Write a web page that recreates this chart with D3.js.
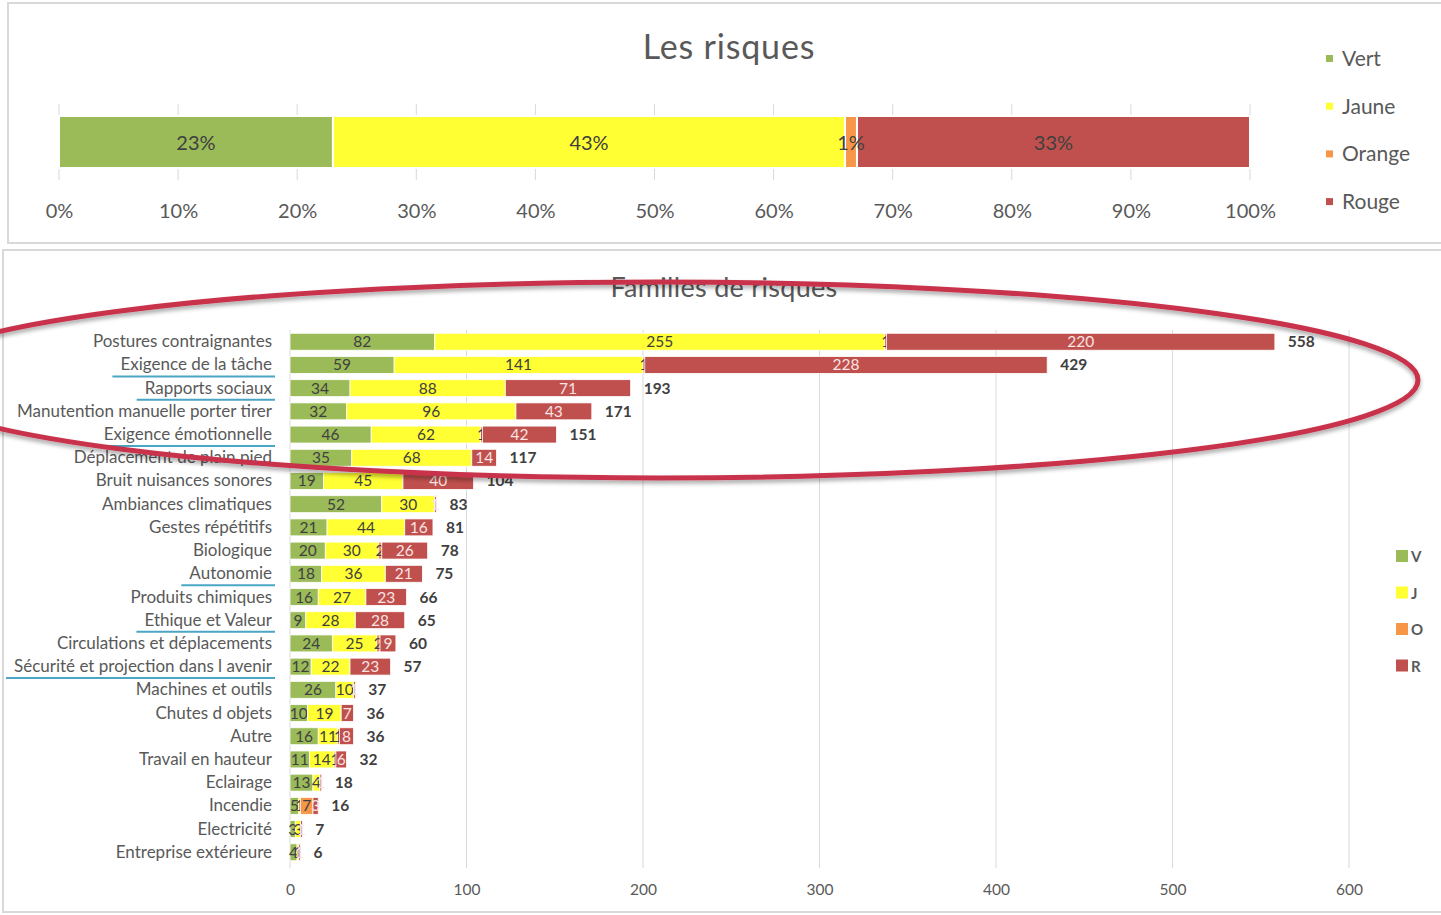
<!DOCTYPE html>
<html>
<head>
<meta charset="utf-8">
<script src="https://cdn.jsdelivr.net/npm/d3@7"></script>
<style>
  body { margin: 0; background: #fff; }
  svg { display: block; font-family: Lato, "Open Sans", sans-serif; }
</style>
</head>
<body>
<div id="chart"></div>
<script>
// Data - top chart (share of each level, %)
const levelNames = ['Vert', 'Jaune', 'Orange', 'Rouge']
const levelShort = ['V', 'J', 'O', 'R']
const levelColors = ['#9bbb59', '#ffff33', '#f79646', '#c0504d']
const topShares = [23, 43, 1, 33]
const topTicks = [0, 10, 20, 30, 40, 50, 60, 70, 80, 90, 100]

// Data - bottom chart (counts by family)
const categories = [
  'Postures contraignantes', 'Exigence de la tâche', 'Rapports sociaux',
  'Manutention manuelle porter tirer', 'Exigence émotionnelle', 'Déplacement de plain pied',
  'Bruit nuisances sonores', 'Ambiances climatiques', 'Gestes répétitifs', 'Biologique',
  'Autonomie', 'Produits chimiques', 'Ethique et Valeur', 'Circulations et déplacements',
  'Sécurité et projection dans l avenir', 'Machines et outils', 'Chutes d objets', 'Autre',
  'Travail en hauteur', 'Eclairage', 'Incendie', 'Electricité', 'Entreprise extérieure'
]
const vert   = [82, 59, 34, 32, 46, 35, 19, 52, 21, 20, 18, 16, 9, 24, 12, 26, 10, 16, 11, 13, 5, 3, 4]
const jaune  = [255, 141, 88, 96, 62, 68, 45, 30, 44, 30, 36, 27, 28, 25, 22, 10, 19, 11, 14, 4, 1, 3, 1]
const orange = [1, 1, 0, 0, 1, 0, 0, 0, 0, 2, 0, 0, 0, 2, 0, 0, 0, 1, 1, 0, 7, 0, 0]
const rouge  = [220, 228, 71, 43, 42, 14, 40, 1, 16, 26, 21, 23, 28, 9, 23, 1, 7, 8, 6, 1, 3, 1, 1]
const underlined = ['Exigence de la tâche', 'Rapports sociaux', 'Exigence émotionnelle',
  'Autonomie', 'Ethique et Valeur', 'Sécurité et projection dans l avenir']
const bottomTicks = [0, 100, 200, 300, 400, 500, 600]

const W = 1441, H = 915
const grey = '#595959', dark = '#404040', grid = '#d9d9d9'

const svg = d3.select('#chart').append('svg')
  .attr('width', W).attr('height', H)

// panel frames
svg.append('rect').attr('x', 8).attr('y', 3).attr('width', 1450).attr('height', 240)
  .attr('fill', 'none').attr('stroke', grid).attr('stroke-width', 2)
svg.append('rect').attr('x', 3).attr('y', 250).attr('width', 1450).attr('height', 662)
  .attr('fill', 'none').attr('stroke', grid).attr('stroke-width', 2)

// ---------- top chart ----------
const xTop = d3.scaleLinear().domain([0, 100]).range([59, 1250])

svg.append('text').attr('x', 729).attr('y', 59).attr('text-anchor', 'middle')
  .attr('font-size', 34).attr('letter-spacing', 0.8).attr('fill', grey).text('Les risques')

svg.append('g').selectAll('line').data(topTicks).join('line')
  .attr('x1', d => xTop(d)).attr('x2', d => xTop(d))
  .attr('y1', 104).attr('y2', 180).attr('stroke', grid)

let acc = 0
const topSegs = topShares.map((v, i) => { const s = { i, x0: acc, x1: acc + v, v }; acc += v; return s })

svg.append('g').selectAll('rect').data(topSegs).join('rect')
  .attr('x', d => xTop(d.x0)).attr('width', d => xTop(d.x1) - xTop(d.x0))
  .attr('y', 116).attr('height', 52)
  .attr('fill', d => levelColors[d.i]).attr('stroke', '#fff').attr('stroke-width', 2)

svg.append('g').selectAll('text').data(topSegs).join('text')
  .attr('x', d => xTop((d.x0 + d.x1) / 2)).attr('y', 150)
  .attr('text-anchor', 'middle').attr('font-size', 20).attr('fill', dark)
  .text(d => d.v + '%')

const topAxis = svg.append('g').attr('transform', 'translate(0,201)')
  .call(d3.axisBottom(xTop).tickValues(topTicks).tickFormat(d => d + '%').tickSize(0))
topAxis.select('.domain').remove()
topAxis.selectAll('text').attr('font-size', 20).attr('fill', grey)
  .attr('font-family', 'Lato, sans-serif')

const topLeg = svg.append('g').selectAll('g').data(levelNames).join('g')
  .attr('transform', (d, i) => `translate(1326,${59 + i * 47.7})`)
topLeg.append('rect').attr('x', 0).attr('y', -4).attr('width', 7).attr('height', 7)
  .attr('fill', (d, i) => levelColors[i])
topLeg.append('text').attr('x', 16).attr('y', 7).attr('font-size', 21).attr('fill', grey).text(d => d)

// ---------- bottom chart ----------
const x = d3.scaleLinear().domain([0, 600]).range([290, 1349])
const y = d3.scaleBand().domain(categories).range([327, 867]).padding(0.27)

svg.append('text').attr('x', 724).attr('y', 297).attr('text-anchor', 'middle')
  .attr('font-size', 27).attr('letter-spacing', 0.3).attr('fill', grey).text('Familles de risques')

svg.append('g').selectAll('line').data(bottomTicks).join('line')
  .attr('x1', d => x(d)).attr('x2', d => x(d))
  .attr('y1', 330).attr('y2', 868).attr('stroke', grid)

const rows = categories.map((c, i) => ({ cat: c, V: vert[i], J: jaune[i], O: orange[i], R: rouge[i] }))
const stack = d3.stack().keys(levelShort)(rows)

const layers = svg.append('g').selectAll('g').data(stack).join('g')
  .attr('fill', (d, i) => levelColors[i])
layers.selectAll('rect').data(d => d).join('rect')
  .attr('x', d => x(d[0])).attr('width', d => x(d[1]) - x(d[0]))
  .attr('y', d => y(d.data.cat)).attr('height', y.bandwidth())
  .attr('stroke', '#fff').attr('stroke-width', 0.8)

layers.each(function (layer, li) {
  d3.select(this).selectAll('text').data(layer.filter(d => d[1] - d[0] > 0)).join('text')
    .attr('x', d => x((d[0] + d[1]) / 2))
    .attr('y', d => y(d.data.cat) + y.bandwidth() / 2 + 5.5)
    .attr('text-anchor', 'middle').attr('font-size', 15.5)
    .attr('fill', li === 3 ? '#f8e4e3' : dark)
    .text(d => d[1] - d[0])
})

svg.append('g').selectAll('text').data(rows).join('text')
  .attr('x', d => x(d.V + d.J + d.O + d.R) + 13)
  .attr('y', d => y(d.cat) + y.bandwidth() / 2 + 5.5)
  .attr('font-size', 15.5).attr('font-weight', 'bold').attr('fill', dark)
  .text(d => d.V + d.J + d.O + d.R)

const catLabels = svg.append('g').selectAll('text').data(categories).join('text')
  .attr('x', 272).attr('y', d => y(d) + y.bandwidth() / 2 + 5.5)
  .attr('text-anchor', 'end').attr('font-size', 17).attr('fill', grey)
  .text(d => d)

// blue underlines on some families
catLabels.filter(d => underlined.includes(d)).each(function (d) {
  const b = this.getBBox()
  svg.append('line').attr('x1', b.x - 8).attr('x2', 275)
    .attr('y1', y(d) + y.bandwidth() / 2 + 11.5).attr('y2', y(d) + y.bandwidth() / 2 + 11.5)
    .attr('stroke', '#4aa6c4').attr('stroke-width', 2)
})

const botAxis = svg.append('g').attr('transform', 'translate(0,881)')
  .call(d3.axisBottom(x).tickValues(bottomTicks).tickSize(0))
botAxis.select('.domain').remove()
botAxis.selectAll('text').attr('font-size', 15.5).attr('fill', grey)
  .attr('font-family', 'Lato, sans-serif')

const botLeg = svg.append('g').selectAll('g').data(levelShort).join('g')
  .attr('transform', (d, i) => `translate(1396,${556 + i * 36.5})`)
botLeg.append('rect').attr('x', 0).attr('y', -6).attr('width', 12).attr('height', 12)
  .attr('fill', (d, i) => levelColors[i])
botLeg.append('text').attr('x', 15).attr('y', 6).attr('font-size', 15)
  .attr('font-weight', 'bold').attr('fill', grey).text(d => d)

// red hand-drawn ellipse annotation
const defs = svg.append('defs')
defs.append('filter').attr('id', 'shadow').attr('x', '-10%').attr('y', '-50%')
  .attr('width', '120%').attr('height', '200%')
  .append('feDropShadow').attr('dx', 0).attr('dy', 3).attr('stdDeviation', 2)
  .attr('flood-color', '#000').attr('flood-opacity', 0.35)
svg.append('ellipse').attr('cx', 659).attr('cy', 380).attr('rx', 759).attr('ry', 98)
  .attr('fill', 'none').attr('stroke', '#c9324b').attr('stroke-width', 5)
  .attr('filter', 'url(#shadow)')
</script>
</body>
</html>
